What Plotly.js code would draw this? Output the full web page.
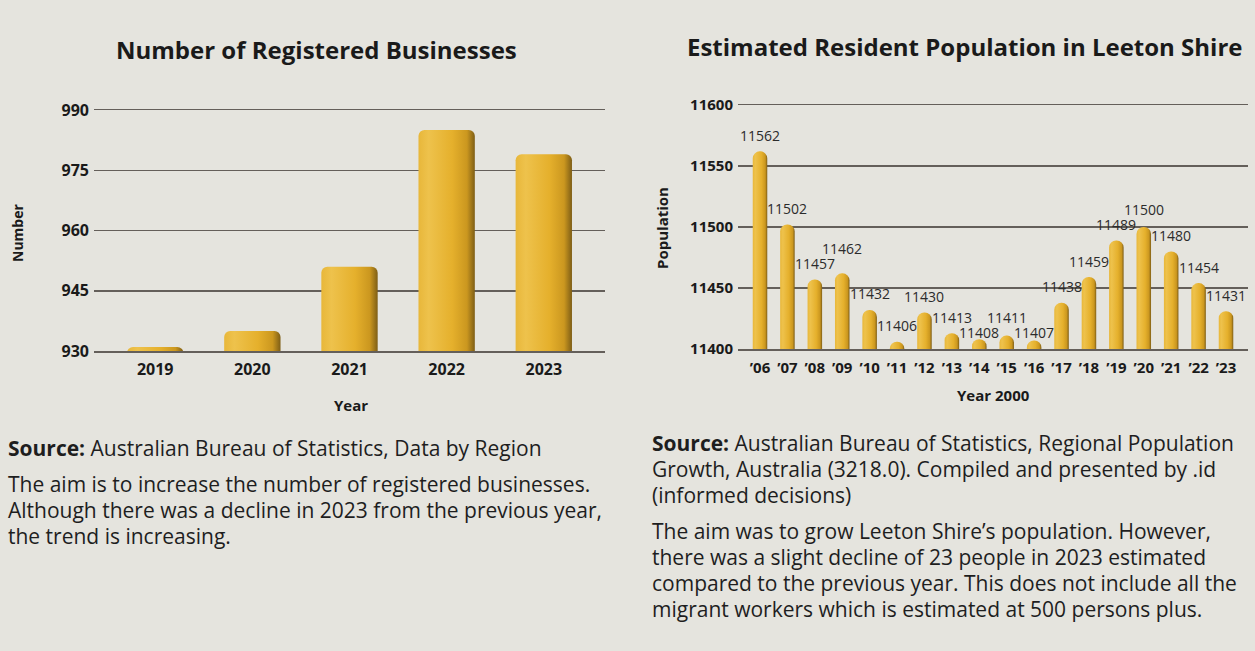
<!DOCTYPE html>
<html><head><meta charset="utf-8">
<script src="https://cdn.plot.ly/plotly-3.0.1.min.js"></script>
<style>
html,body{margin:0;padding:0;background:#E5E4DE;}
#wrap{position:relative;width:1255px;height:651px;overflow:hidden;background:#E5E4DE;font-family:'Open Sans',sans-serif;color:#1e1e1e;}
#chart{position:absolute;left:0;top:0;width:1255px;height:651px;}
.txt{position:absolute;font-size:21px;line-height:26px;white-space:nowrap;}
.txt p{margin:0 0 10px 0;}
.txt b{font-weight:700;}
</style></head>
<body><div id="wrap"><div id="chart"></div>
<div class="txt" style="left:8px;top:435px;">
<p><b>Source:</b> Australian Bureau of Statistics, Data by Region</p>
<p>The aim is to increase the number of registered businesses.<br>Although there was a decline in 2023 from the previous year,<br>the trend is increasing.</p>
</div>
<div class="txt" style="left:652px;top:430px;">
<p><b>Source:</b> Australian Bureau of Statistics, Regional Population<br>Growth, Australia (3218.0). Compiled and presented by .id<br>(informed decisions)</p>
<p>The aim was to grow Leeton Shire’s population. However,<br>there was a slight decline of 23 people in 2023 estimated<br>compared to the previous year. This does not include all the<br>migrant workers which is estimated at 500 persons plus.</p>
</div>
</div>
<script>
// ---- Data ----
const bizYears = ['2019', '2020', '2021', '2022', '2023'];
const bizCounts = [931, 935, 951, 985, 979];

const popYears = ['’06','’07','’08','’09','’10','’11','’12','’13','’14','’15','’16','’17','’18','’19','’20','’21','’22','’23'];
const popValues = [11562, 11502, 11457, 11462, 11432, 11406, 11430, 11413, 11408, 11411, 11407, 11438, 11459, 11489, 11500, 11480, 11454, 11431];

const leftTitle = 'Number of Registered Businesses';
const rightTitle = 'Estimated Resident Population in Leeton Shire';

// ---- Styles ----
const W = 1255, H = 651;
const gold = '#E6B22D';
const gridCol = '#645f5a';
const ink = '#1a1a1a';
const FONT = 'Open Sans, sans-serif';
const px = v => v / W;
const py = v => 1 - v / H;
const bold = (size) => ({family: FONT, size: size, weight: 700, color: ink});

const yDom2 = [py(349), py(105)];
const yRange2 = [11400, 11600];

// Data-label placement: a little above each bar, nudged apart when neighbours would collide
const pxPerUnit = (yDom2[1] - yDom2[0]) * H / (yRange2[1] - yRange2[0]);
const GAP = 16, SEP = 15, CLEAR = 7;
const labelY = [];
popValues.forEach((v, i) => {
  const top = -(v - yRange2[0]) * pxPerUnit;
  let y = top - GAP;
  if (i > 0 && Math.abs(y - labelY[i - 1]) < SEP) {
    if (v >= popValues[i - 1]) {
      y = Math.min(y, labelY[i - 1] - SEP);
    } else {
      const lower = Math.max(y, labelY[i - 1] + SEP);
      y = (lower <= top - CLEAR) ? lower : labelY[i - 1] - SEP;
    }
  }
  labelY.push(y);
});
const labelAnns = popValues.map((v, i) => {
  const top = -(v - yRange2[0]) * pxPerUnit;
  return {
    text: String(v), x: popYears[i], y: v, xref: 'x2', yref: 'y2',
    yshift: top - labelY[i], showarrow: false, xanchor: 'center', yanchor: 'middle',
    font: {family: FONT, size: 14, color: '#2b2b2b'}
  };
});

const traces = [
  {
    type: 'bar', x: bizYears, y: bizCounts, xaxis: 'x', yaxis: 'y',
    width: 0.58, marker: {color: gold, cornerradius: 6, line: {width: 0}},
    hoverinfo: 'skip'
  },
  {
    type: 'bar', x: popYears, y: popValues, xaxis: 'x2', yaxis: 'y2',
    width: 0.53, marker: {color: gold, cornerradius: '50%', line: {width: 0}},
    hoverinfo: 'skip'
  }
];

const layout = {
  width: W, height: H,
  margin: {l: 0, r: 0, t: 0, b: 0},
  paper_bgcolor: 'rgba(0,0,0,0)', plot_bgcolor: 'rgba(0,0,0,0)',
  showlegend: false,
  font: {family: FONT, color: ink},
  xaxis: {
    domain: [px(94), px(605)], anchor: 'y', type: 'category', range: [-0.63, 4.63],
    showgrid: false, zeroline: false, ticks: '', ticklabelstandoff: 3,
    showline: true, mirror: true, linecolor: gridCol, linewidth: 1.5,
    tickfont: bold(16), fixedrange: true
  },
  yaxis: {
    domain: [py(351), py(110)], anchor: 'x', range: [930, 990],
    tick0: 930, dtick: 15, showgrid: true, gridcolor: gridCol, gridwidth: 1.5,
    zeroline: false, showline: false, ticks: '', ticklabelstandoff: 4,
    tickfont: bold(16), fixedrange: true
  },
  xaxis2: {
    domain: [px(738), px(1248)], anchor: 'y2', type: 'category',
    showgrid: false, zeroline: false, ticks: '', ticklabelstandoff: 4,
    showline: true, mirror: true, linecolor: gridCol, linewidth: 1.5,
    tickfont: bold(15), tickangle: 0, fixedrange: true
  },
  yaxis2: {
    domain: yDom2, anchor: 'x2', range: yRange2, tickformat: 'd',
    tick0: 11400, dtick: 50, showgrid: true, gridcolor: gridCol, gridwidth: 1.5,
    zeroline: false, showline: false, ticks: '', ticklabelstandoff: 4,
    tickfont: bold(15), fixedrange: true
  },
  annotations: [
    {text: leftTitle, xref: 'paper', yref: 'paper', x: px(316), y: py(50), showarrow: false,
     xanchor: 'center', yanchor: 'middle', font: bold(24)},
    {text: rightTitle, xref: 'paper', yref: 'paper', x: px(965), y: py(47), showarrow: false,
     xanchor: 'center', yanchor: 'middle', font: bold(24)},
    {text: 'Number', xref: 'paper', yref: 'paper', x: px(18), y: py(233), showarrow: false,
     textangle: -90, xanchor: 'center', yanchor: 'middle', font: bold(14)},
    {text: 'Year', xref: 'paper', yref: 'paper', x: px(351), y: py(405), showarrow: false,
     xanchor: 'center', yanchor: 'middle', font: bold(15)},
    {text: 'Population', xref: 'paper', yref: 'paper', x: px(662), y: py(228), showarrow: false,
     textangle: -90, xanchor: 'center', yanchor: 'middle', font: bold(15)},
    {text: 'Year 2000', xref: 'paper', yref: 'paper', x: px(993), y: py(395), showarrow: false,
     xanchor: 'center', yanchor: 'middle', font: bold(15)}
  ].concat(labelAnns)
};

Plotly.newPlot('chart', traces, layout, {staticPlot: true, displayModeBar: false}).then(() => {
  // cylindrical shading on the bars
  const svg = document.querySelector('#chart .main-svg');
  const NS = 'http://www.w3.org/2000/svg';
  let defs = svg.querySelector('defs');
  if (!defs) { defs = document.createElementNS(NS, 'defs'); svg.insertBefore(defs, svg.firstChild); }
  const g = document.createElementNS(NS, 'linearGradient');
  g.setAttribute('id', 'goldShade');
  g.setAttribute('x1', '0'); g.setAttribute('y1', '0'); g.setAttribute('x2', '1'); g.setAttribute('y2', '0');
  [['0', '#E8B73A'], ['0.18', '#EEC24C'], ['0.6', '#E5B02C'], ['0.86', '#CB971F'], ['1', '#7E5E16']].forEach(([o, c]) => {
    const s = document.createElementNS(NS, 'stop');
    s.setAttribute('offset', o); s.setAttribute('stop-color', c);
    g.appendChild(s);
  });
  defs.appendChild(g);
  document.querySelectorAll('#chart .bars .point path').forEach(p => { p.style.fill = 'url(#goldShade)'; });
});
</script>
</body></html>
